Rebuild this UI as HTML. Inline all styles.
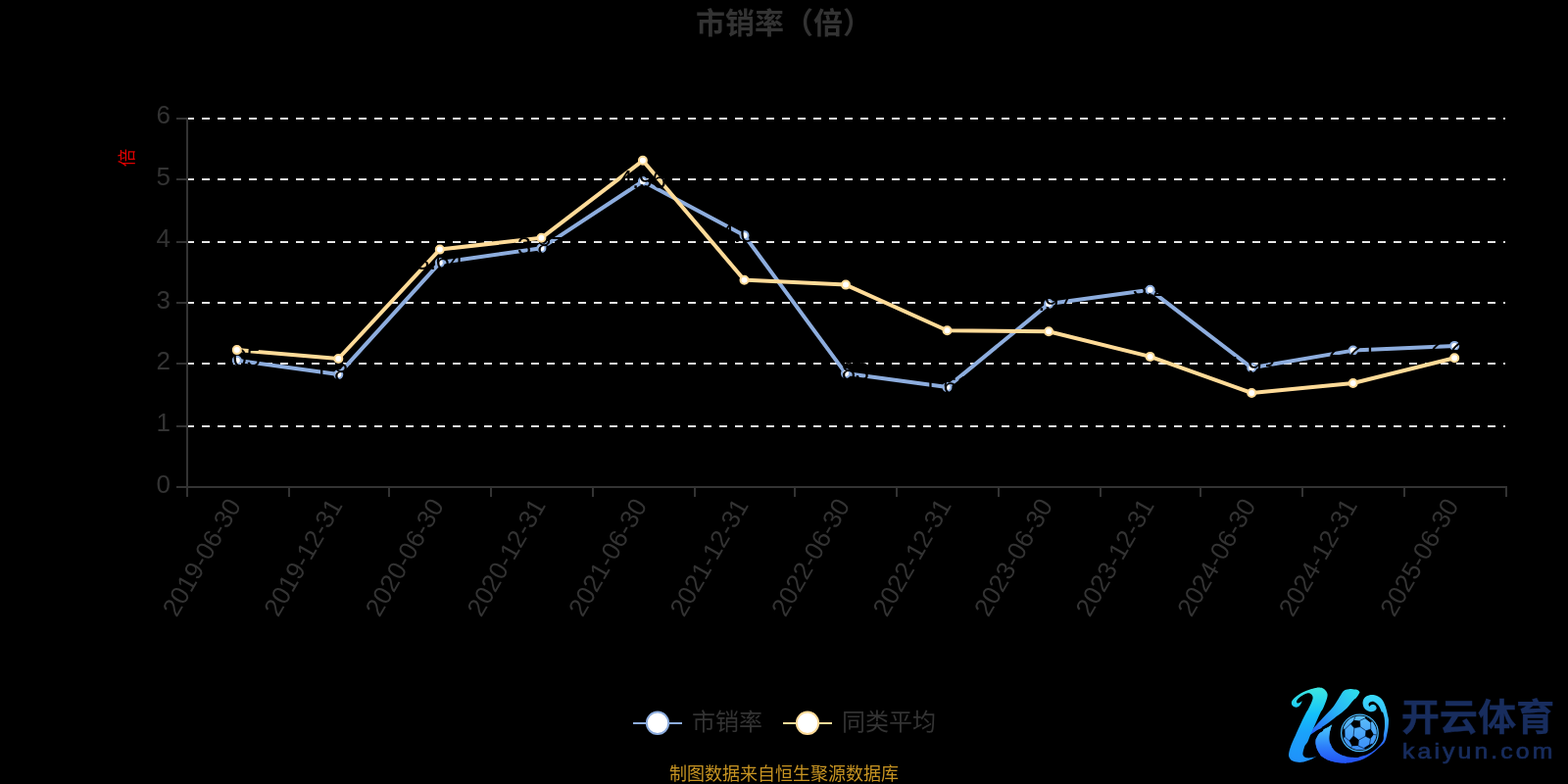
<!DOCTYPE html>
<html lang="zh-CN">
<head>
<meta charset="utf-8">
<title>市销率（倍）</title>
<style>
html,body{margin:0;padding:0;background:#000;}
body{width:1600px;height:800px;overflow:hidden;position:relative;font-family:"Liberation Sans", "Noto Sans CJK SC", sans-serif;}
svg{position:absolute;left:0;top:0;display:block;}
text{font-family:"Liberation Sans", "Noto Sans CJK SC", sans-serif;}
</style>
</head>
<body>
<svg width="1600" height="800" viewBox="0 0 1600 800">
<rect x="0" y="0" width="1600" height="800" fill="#000000"/>
<text x="800" y="34" text-anchor="middle" font-size="30" font-weight="bold" fill="#333333">市销率（倍）</text>
<text x="129" y="161" text-anchor="middle" font-size="18.5" fill="#e00000" transform="rotate(-90 129 161)" dy="6.5">倍</text>
<g stroke="#e6e6e6" stroke-width="2" stroke-dasharray="8 8" fill="none">
<path d="M190 121 H1536"/>
<path d="M190 183 H1536"/>
<path d="M190 247 H1536"/>
<path d="M190 309 H1536"/>
<path d="M190 371 H1536"/>
<path d="M190 435 H1536"/>
</g>
<polyline points="241.8,367.8 345.3,382.1 448.8,268.1 552.4,253.2 655.9,185.0 759.5,240.2 863.0,381.1 966.5,395.1 1070.1,310.1 1173.6,295.8 1277.2,375.3 1380.7,357.6 1484.2,352.9" fill="none" stroke="#8dadde" stroke-width="4" stroke-linejoin="round" stroke-linecap="round"/>
<g fill="#ffffff" stroke="#8dadde" stroke-width="2">
<circle cx="241.8" cy="367.8" r="4"/>
<circle cx="345.3" cy="382.1" r="4"/>
<circle cx="448.8" cy="268.1" r="4"/>
<circle cx="552.4" cy="253.2" r="4"/>
<circle cx="655.9" cy="185.0" r="4"/>
<circle cx="759.5" cy="240.2" r="4"/>
<circle cx="863.0" cy="381.1" r="4"/>
<circle cx="966.5" cy="395.1" r="4"/>
<circle cx="1070.1" cy="310.1" r="4"/>
<circle cx="1173.6" cy="295.8" r="4"/>
<circle cx="1277.2" cy="375.3" r="4"/>
<circle cx="1380.7" cy="357.6" r="4"/>
<circle cx="1484.2" cy="352.9" r="4"/>
</g>
<polyline points="241.8,357.1 345.3,366.0 448.8,254.6 552.4,242.8 655.9,163.8 759.5,285.7 863.0,290.6 966.5,337.2 1070.1,338.2 1173.6,363.9 1277.2,401.0 1380.7,391.0 1484.2,365.3" fill="none" stroke="#ffdb98" stroke-width="4" stroke-linejoin="round" stroke-linecap="round"/>
<g font-size="26" fill="#000000" text-anchor="middle" style="letter-spacing:-0.6px">
<text x="241.2" y="374.2">2.05</text>
<text x="344.7" y="388.6">1.82</text>
<text x="448.2" y="274.6">3.64</text>
<text x="551.8" y="259.8">3.87</text>
<text x="655.3" y="191.5">4.96</text>
<text x="758.9" y="246.7">4.08</text>
<text x="862.4" y="387.6">1.83</text>
<text x="965.9" y="401.6">1.61</text>
<text x="1069.5" y="316.6">2.97</text>
<text x="1173.0" y="302.3">3.2</text>
<text x="1276.6" y="381.8">1.93</text>
<text x="1380.1" y="364.1">2.21</text>
<text x="1483.6" y="359.4">2.28</text>
</g>
<g fill="#ffffff" stroke="#ffdb98" stroke-width="2">
<circle cx="241.8" cy="357.1" r="4"/>
<circle cx="345.3" cy="366.0" r="4"/>
<circle cx="448.8" cy="254.6" r="4"/>
<circle cx="552.4" cy="242.8" r="4"/>
<circle cx="655.9" cy="163.8" r="4"/>
<circle cx="759.5" cy="285.7" r="4"/>
<circle cx="863.0" cy="290.6" r="4"/>
<circle cx="966.5" cy="337.2" r="4"/>
<circle cx="1070.1" cy="338.2" r="4"/>
<circle cx="1173.6" cy="363.9" r="4"/>
<circle cx="1277.2" cy="401.0" r="4"/>
<circle cx="1380.7" cy="391.0" r="4"/>
<circle cx="1484.2" cy="365.3" r="4"/>
</g>
<g stroke="#333333" stroke-width="2" fill="none">
<path d="M191 120 V497"/>
<path d="M190 497 H1538"/>
<path d="M180 121 H190"/>
<path d="M180 183 H190"/>
<path d="M180 247 H190"/>
<path d="M180 309 H190"/>
<path d="M180 371 H190"/>
<path d="M180 435 H190"/>
<path d="M180 497 H190"/>
<path d="M191 497 V507"/>
<path d="M295 497 V507"/>
<path d="M397 497 V507"/>
<path d="M501 497 V507"/>
<path d="M605 497 V507"/>
<path d="M709 497 V507"/>
<path d="M811 497 V507"/>
<path d="M915 497 V507"/>
<path d="M1019 497 V507"/>
<path d="M1123 497 V507"/>
<path d="M1225 497 V507"/>
<path d="M1329 497 V507"/>
<path d="M1433 497 V507"/>
<path d="M1537 497 V507"/>
</g>
<g font-size="26" fill="#333333" text-anchor="end">
<text x="174" y="502.9">0</text>
<text x="174" y="440.0">1</text>
<text x="174" y="377.1">2</text>
<text x="174" y="315.2">3</text>
<text x="174" y="251.8">4</text>
<text x="174" y="189.1">5</text>
<text x="174" y="126.3">6</text>
</g>
<g font-size="26" fill="#333333" text-anchor="end">
<text x="246.8" y="515.5" transform="rotate(-60 246.8 515.5)">2019-06-30</text>
<text x="350.3" y="515.5" transform="rotate(-60 350.3 515.5)">2019-12-31</text>
<text x="453.8" y="515.5" transform="rotate(-60 453.8 515.5)">2020-06-30</text>
<text x="557.4" y="515.5" transform="rotate(-60 557.4 515.5)">2020-12-31</text>
<text x="660.9" y="515.5" transform="rotate(-60 660.9 515.5)">2021-06-30</text>
<text x="764.5" y="515.5" transform="rotate(-60 764.5 515.5)">2021-12-31</text>
<text x="868.0" y="515.5" transform="rotate(-60 868.0 515.5)">2022-06-30</text>
<text x="971.5" y="515.5" transform="rotate(-60 971.5 515.5)">2022-12-31</text>
<text x="1075.1" y="515.5" transform="rotate(-60 1075.1 515.5)">2023-06-30</text>
<text x="1178.6" y="515.5" transform="rotate(-60 1178.6 515.5)">2023-12-31</text>
<text x="1282.2" y="515.5" transform="rotate(-60 1282.2 515.5)">2024-06-30</text>
<text x="1385.7" y="515.5" transform="rotate(-60 1385.7 515.5)">2024-12-31</text>
<text x="1489.2" y="515.5" transform="rotate(-60 1489.2 515.5)">2025-06-30</text>
</g>
<g>
<path d="M646 738 H696" stroke="#8dadde" stroke-width="2" fill="none"/>
<circle cx="671" cy="737.8" r="11.2" fill="#ffffff" stroke="#8dadde" stroke-width="2"/>
<text x="706" y="745" font-size="24" fill="#333333">市销率</text>
<path d="M799 738 H849" stroke="#ffdb98" stroke-width="2" fill="none"/>
<circle cx="824" cy="737.8" r="11.2" fill="#ffffff" stroke="#ffdb98" stroke-width="2"/>
<text x="859" y="745" font-size="24" fill="#333333">同类平均</text>
</g>
<text x="800" y="796.1" text-anchor="middle" font-size="18" fill="#c79422">制图数据来自恒生聚源数据库</text>
<g id="logo">
<defs>
<linearGradient id="g1" gradientUnits="userSpaceOnUse" x1="0" y1="701" x2="0" y2="779">
<stop offset="0" stop-color="#3fe8e0"/><stop offset="0.2" stop-color="#26d4ee"/><stop offset="0.36" stop-color="#14c0fa"/><stop offset="0.6" stop-color="#1aa2fa"/><stop offset="1" stop-color="#2090fa"/>
</linearGradient>
<linearGradient id="g2" gradientUnits="userSpaceOnUse" x1="1385" y1="703" x2="1338" y2="748">
<stop offset="0" stop-color="#2fe0ea"/><stop offset="0.5" stop-color="#28b0f6"/><stop offset="1" stop-color="#2862fa"/>
</linearGradient>
<linearGradient id="g3" gradientUnits="userSpaceOnUse" x1="0" y1="708" x2="0" y2="779">
<stop offset="0" stop-color="#3adcfa"/><stop offset="0.3" stop-color="#38c0fa"/><stop offset="0.5" stop-color="#32a0fa"/><stop offset="0.7" stop-color="#2a6cfa"/><stop offset="1" stop-color="#2352f4"/>
</linearGradient>
<linearGradient id="g4" gradientUnits="userSpaceOnUse" x1="0" y1="730" x2="0" y2="766">
<stop offset="0" stop-color="#5cc0fa"/><stop offset="1" stop-color="#3a8cf8"/>
</linearGradient>
<linearGradient id="g5" gradientUnits="userSpaceOnUse" x1="0" y1="739" x2="0" y2="779">
<stop offset="0" stop-color="#50ccfb"/><stop offset="0.3" stop-color="#3aa6fa"/><stop offset="0.6" stop-color="#2c7cfa"/><stop offset="1" stop-color="#2352f4"/>
</linearGradient>
<clipPath id="lc"><rect x="1330" y="730" width="44" height="60"/></clipPath>
<clipPath id="bc"><circle cx="1387.4" cy="747.9" r="17.4"/></clipPath>
</defs>
<path fill="url(#g3)" d="M1359.25 739.37C1358.65 739.82 1357.69 740.75 1356.25 741.62C1354.81 742.50 1351.66 743.87 1350.62 744.62C1349.59 745.37 1350.78 745.44 1350.01 746.12C1349.24 746.81 1347.11 747.56 1346.00 748.75C1344.89 749.94 1343.94 752.21 1343.37 753.25C1342.81 754.29 1342.75 753.96 1342.62 755.00C1342.50 756.04 1342.37 757.87 1342.62 759.50C1342.87 761.12 1343.44 763.12 1344.12 764.75C1344.81 766.37 1345.98 768.06 1346.75 769.25C1347.52 770.44 1347.48 770.87 1348.75 771.87C1350.02 772.87 1352.19 774.31 1354.37 775.25C1356.56 776.19 1359.06 776.94 1361.87 777.50C1364.69 778.06 1368.44 778.50 1371.25 778.62C1374.06 778.75 1377.29 778.37 1378.75 778.25C1380.21 778.12 1378.54 778.25 1380.00 777.87C1381.46 777.50 1385.00 776.87 1387.50 776.00C1390.00 775.12 1392.50 774.06 1395.00 772.62C1397.50 771.19 1400.31 769.12 1402.50 767.37C1404.69 765.62 1406.37 763.85 1408.12 762.12C1409.87 760.40 1411.81 759.10 1413.00 757.00C1414.19 754.90 1414.66 752.00 1415.25 749.50C1415.84 747.00 1416.28 744.50 1416.56 742.00C1416.84 739.50 1417.03 736.50 1416.94 734.50C1416.84 732.50 1416.34 731.62 1416.00 730.00C1415.66 728.37 1415.37 726.56 1414.87 724.75C1414.37 722.94 1413.69 720.81 1413.00 719.12C1412.31 717.44 1411.62 715.87 1410.75 714.62C1409.87 713.37 1408.81 712.44 1407.75 711.62C1406.69 710.81 1405.50 710.19 1404.37 709.75C1403.25 709.31 1402.12 709.09 1401.00 709.00C1399.87 708.91 1398.69 708.97 1397.62 709.19C1396.56 709.41 1395.56 709.75 1394.62 710.31C1393.69 710.87 1392.66 711.66 1392.00 712.56C1391.34 713.47 1390.91 714.72 1390.69 715.75C1390.47 716.78 1390.53 717.75 1390.69 718.75C1390.84 719.75 1391.22 720.91 1391.62 721.75C1392.03 722.59 1392.50 723.22 1393.12 723.81C1393.75 724.41 1394.56 724.92 1395.37 725.31C1396.19 725.71 1397.12 726.05 1398.00 726.17C1398.87 726.30 1399.81 726.22 1400.62 726.06C1401.44 725.90 1402.26 725.57 1402.87 725.20C1403.49 724.82 1404.01 724.29 1404.30 723.81C1404.59 723.33 1404.64 722.83 1404.60 722.31C1404.56 721.79 1404.35 721.16 1404.07 720.70C1403.80 720.24 1403.37 719.86 1402.95 719.57C1402.53 719.29 1402.04 719.08 1401.56 718.97C1401.08 718.87 1400.53 718.85 1400.06 718.94C1399.59 719.02 1399.12 719.25 1398.75 719.50C1398.37 719.75 1398.05 720.17 1397.81 720.44C1397.57 720.70 1397.42 720.95 1397.32 721.07C1397.16 720.65 1396.54 719.56 1396.50 718.94C1396.46 718.31 1396.74 717.78 1397.06 717.32C1397.39 716.87 1397.91 716.46 1398.45 716.20C1398.99 715.94 1399.68 715.75 1400.32 715.75C1400.97 715.75 1401.65 715.92 1402.31 716.20C1402.97 716.48 1403.59 716.82 1404.30 717.44C1405.01 718.05 1405.86 718.94 1406.55 719.87C1407.24 720.81 1407.88 721.97 1408.42 723.06C1408.97 724.16 1409.36 725.78 1409.81 726.44C1410.26 727.09 1410.66 725.97 1411.12 727.00C1411.59 728.03 1412.31 730.75 1412.62 732.62C1412.94 734.50 1412.97 736.37 1413.00 738.25C1413.03 740.12 1413.00 742.00 1412.81 743.87C1412.62 745.75 1412.09 747.65 1411.87 749.50C1411.66 751.35 1412.19 753.15 1411.50 755.00C1410.81 756.85 1409.25 758.87 1407.75 760.62C1406.25 762.37 1404.62 763.94 1402.50 765.50C1400.37 767.06 1397.50 768.87 1395.00 770.00C1392.50 771.12 1389.16 771.75 1387.50 772.25C1385.84 772.75 1386.78 772.94 1385.01 773.00C1383.24 773.06 1379.48 773.00 1376.87 772.62C1374.27 772.25 1371.56 771.56 1369.37 770.75C1367.19 769.94 1365.31 768.87 1363.75 767.75C1362.19 766.62 1361.00 765.37 1360.00 764.00C1359.00 762.62 1358.31 760.67 1357.75 759.50C1357.19 758.33 1356.87 758.04 1356.62 757.00C1356.37 755.96 1356.25 754.62 1356.25 753.25C1356.25 751.87 1356.37 750.31 1356.62 748.75C1356.87 747.19 1357.31 745.44 1357.75 743.87C1358.19 742.31 1358.95 740.27 1359.25 739.37Z"/>
<path fill="url(#g5)" clip-path="url(#lc)" d="M1359.25 739.37C1358.65 739.82 1357.69 740.75 1356.25 741.62C1354.81 742.50 1351.66 743.87 1350.62 744.62C1349.59 745.37 1350.78 745.44 1350.01 746.12C1349.24 746.81 1347.11 747.56 1346.00 748.75C1344.89 749.94 1343.94 752.21 1343.37 753.25C1342.81 754.29 1342.75 753.96 1342.62 755.00C1342.50 756.04 1342.37 757.87 1342.62 759.50C1342.87 761.12 1343.44 763.12 1344.12 764.75C1344.81 766.37 1345.98 768.06 1346.75 769.25C1347.52 770.44 1347.48 770.87 1348.75 771.87C1350.02 772.87 1352.19 774.31 1354.37 775.25C1356.56 776.19 1359.06 776.94 1361.87 777.50C1364.69 778.06 1368.44 778.50 1371.25 778.62C1374.06 778.75 1377.29 778.37 1378.75 778.25C1380.21 778.12 1378.54 778.25 1380.00 777.87C1381.46 777.50 1385.00 776.87 1387.50 776.00C1390.00 775.12 1392.50 774.06 1395.00 772.62C1397.50 771.19 1400.31 769.12 1402.50 767.37C1404.69 765.62 1406.37 763.85 1408.12 762.12C1409.87 760.40 1411.81 759.10 1413.00 757.00C1414.19 754.90 1414.66 752.00 1415.25 749.50C1415.84 747.00 1416.28 744.50 1416.56 742.00C1416.84 739.50 1417.03 736.50 1416.94 734.50C1416.84 732.50 1416.34 731.62 1416.00 730.00C1415.66 728.37 1415.37 726.56 1414.87 724.75C1414.37 722.94 1413.69 720.81 1413.00 719.12C1412.31 717.44 1411.62 715.87 1410.75 714.62C1409.87 713.37 1408.81 712.44 1407.75 711.62C1406.69 710.81 1405.50 710.19 1404.37 709.75C1403.25 709.31 1402.12 709.09 1401.00 709.00C1399.87 708.91 1398.69 708.97 1397.62 709.19C1396.56 709.41 1395.56 709.75 1394.62 710.31C1393.69 710.87 1392.66 711.66 1392.00 712.56C1391.34 713.47 1390.91 714.72 1390.69 715.75C1390.47 716.78 1390.53 717.75 1390.69 718.75C1390.84 719.75 1391.22 720.91 1391.62 721.75C1392.03 722.59 1392.50 723.22 1393.12 723.81C1393.75 724.41 1394.56 724.92 1395.37 725.31C1396.19 725.71 1397.12 726.05 1398.00 726.17C1398.87 726.30 1399.81 726.22 1400.62 726.06C1401.44 725.90 1402.26 725.57 1402.87 725.20C1403.49 724.82 1404.01 724.29 1404.30 723.81C1404.59 723.33 1404.64 722.83 1404.60 722.31C1404.56 721.79 1404.35 721.16 1404.07 720.70C1403.80 720.24 1403.37 719.86 1402.95 719.57C1402.53 719.29 1402.04 719.08 1401.56 718.97C1401.08 718.87 1400.53 718.85 1400.06 718.94C1399.59 719.02 1399.12 719.25 1398.75 719.50C1398.37 719.75 1398.05 720.17 1397.81 720.44C1397.57 720.70 1397.42 720.95 1397.32 721.07C1397.16 720.65 1396.54 719.56 1396.50 718.94C1396.46 718.31 1396.74 717.78 1397.06 717.32C1397.39 716.87 1397.91 716.46 1398.45 716.20C1398.99 715.94 1399.68 715.75 1400.32 715.75C1400.97 715.75 1401.65 715.92 1402.31 716.20C1402.97 716.48 1403.59 716.82 1404.30 717.44C1405.01 718.05 1405.86 718.94 1406.55 719.87C1407.24 720.81 1407.88 721.97 1408.42 723.06C1408.97 724.16 1409.36 725.78 1409.81 726.44C1410.26 727.09 1410.66 725.97 1411.12 727.00C1411.59 728.03 1412.31 730.75 1412.62 732.62C1412.94 734.50 1412.97 736.37 1413.00 738.25C1413.03 740.12 1413.00 742.00 1412.81 743.87C1412.62 745.75 1412.09 747.65 1411.87 749.50C1411.66 751.35 1412.19 753.15 1411.50 755.00C1410.81 756.85 1409.25 758.87 1407.75 760.62C1406.25 762.37 1404.62 763.94 1402.50 765.50C1400.37 767.06 1397.50 768.87 1395.00 770.00C1392.50 771.12 1389.16 771.75 1387.50 772.25C1385.84 772.75 1386.78 772.94 1385.01 773.00C1383.24 773.06 1379.48 773.00 1376.87 772.62C1374.27 772.25 1371.56 771.56 1369.37 770.75C1367.19 769.94 1365.31 768.87 1363.75 767.75C1362.19 766.62 1361.00 765.37 1360.00 764.00C1359.00 762.62 1358.31 760.67 1357.75 759.50C1357.19 758.33 1356.87 758.04 1356.62 757.00C1356.37 755.96 1356.25 754.62 1356.25 753.25C1356.25 751.87 1356.37 750.31 1356.62 748.75C1356.87 747.19 1357.31 745.44 1357.75 743.87C1358.19 742.31 1358.95 740.27 1359.25 739.37Z"/>
<path fill="url(#g2)" d="M1337.00 747.50C1337.50 746.44 1338.67 745.10 1340.00 743.50C1341.33 741.90 1343.35 739.69 1345.00 737.87C1346.65 736.06 1348.19 734.44 1349.87 732.62C1351.56 730.81 1353.44 728.81 1355.12 727.00C1356.81 725.19 1358.44 723.75 1360.00 721.75C1361.56 719.75 1363.12 717.12 1364.50 715.00C1365.87 712.87 1367.25 710.56 1368.25 709.00C1369.25 707.44 1369.62 706.50 1370.50 705.62C1371.37 704.75 1372.12 704.19 1373.50 703.75C1374.87 703.31 1377.67 703.09 1378.75 703.00C1379.83 702.91 1379.17 703.09 1380.00 703.19C1380.83 703.28 1382.69 703.31 1383.75 703.56C1384.81 703.81 1385.75 704.22 1386.37 704.69C1387.00 705.16 1387.27 706.04 1387.50 706.37C1387.27 706.82 1387.00 707.62 1386.37 708.62C1385.75 709.62 1384.52 711.50 1383.75 712.37C1382.98 713.25 1382.71 712.87 1381.75 713.87C1380.79 714.87 1379.25 716.87 1378.00 718.37C1376.75 719.87 1375.69 721.44 1374.25 722.87C1372.81 724.31 1371.12 725.62 1369.37 727.00C1367.62 728.38 1365.94 729.44 1363.75 731.12C1361.56 732.81 1358.75 735.25 1356.25 737.12C1353.75 739.00 1349.79 741.56 1348.75 742.37C1347.71 743.19 1350.85 741.50 1350.01 742.00C1349.18 742.50 1345.92 744.06 1343.75 745.37C1341.58 746.69 1338.12 749.52 1337.00 749.87C1335.87 750.23 1336.50 748.56 1337.00 747.50Z"/>
<path fill="url(#g1)" d="M1347.50 701.72C1346.67 701.69 1345.31 701.47 1343.75 701.69C1342.19 701.90 1340.00 702.44 1338.12 703.00C1336.25 703.56 1334.37 704.25 1332.50 705.06C1330.62 705.87 1328.62 706.84 1326.87 707.87C1325.12 708.91 1323.31 710.19 1322.00 711.25C1320.69 712.31 1319.69 713.31 1319.00 714.25C1318.31 715.19 1317.97 716.00 1317.87 716.87C1317.78 717.75 1318.00 718.75 1318.44 719.50C1318.87 720.25 1319.72 721.00 1320.50 721.37C1321.28 721.75 1322.25 721.91 1323.12 721.75C1324.00 721.59 1325.00 721.06 1325.75 720.44C1326.50 719.81 1327.12 718.84 1327.62 718.00C1328.12 717.16 1328.52 715.90 1328.75 715.37C1328.30 715.67 1327.19 716.50 1326.50 716.87C1325.81 717.25 1325.16 717.59 1324.62 717.62C1324.09 717.66 1323.56 717.44 1323.31 717.06C1323.06 716.69 1322.91 716.03 1323.12 715.37C1323.34 714.72 1323.87 713.94 1324.62 713.12C1325.37 712.31 1326.56 711.28 1327.62 710.50C1328.69 709.72 1329.87 708.97 1331.00 708.44C1332.12 707.91 1333.37 707.44 1334.37 707.31C1335.37 707.19 1336.25 707.34 1337.00 707.69C1337.75 708.03 1338.44 708.66 1338.87 709.37C1339.31 710.09 1339.62 711.06 1339.62 712.00C1339.62 712.94 1339.31 713.75 1338.87 715.00C1338.44 716.25 1337.69 718.00 1337.00 719.50C1336.31 721.00 1335.44 722.75 1334.75 724.00C1334.06 725.25 1333.87 725.12 1332.87 727.00C1331.87 728.88 1330.19 732.25 1328.75 735.25C1327.31 738.25 1325.50 742.25 1324.25 745.00C1323.00 747.75 1322.00 750.08 1321.25 751.75C1320.50 753.42 1320.50 753.21 1319.75 755.00C1319.00 756.79 1317.53 760.12 1316.75 762.50C1315.97 764.87 1315.25 767.50 1315.06 769.25C1314.87 771.00 1315.03 771.81 1315.62 773.00C1316.22 774.19 1317.19 775.56 1318.62 776.37C1320.06 777.19 1322.31 777.69 1324.25 777.87C1326.19 778.06 1328.25 777.87 1330.25 777.50C1332.25 777.12 1334.50 776.31 1336.25 775.62C1338.00 774.94 1339.50 774.06 1340.75 773.37C1342.00 772.69 1343.15 771.87 1343.75 771.50C1343.37 771.65 1342.75 772.00 1341.87 772.25C1341.00 772.50 1339.75 772.81 1338.50 773.00C1337.25 773.19 1335.62 773.50 1334.37 773.37C1333.12 773.25 1331.81 772.81 1331.00 772.25C1330.19 771.69 1329.69 771.00 1329.50 770.00C1329.31 769.00 1329.50 767.81 1329.87 766.25C1330.25 764.69 1331.00 762.17 1331.75 760.62C1332.50 759.08 1333.50 758.73 1334.37 757.00C1335.25 755.27 1336.06 752.50 1337.00 750.25C1337.94 748.00 1338.87 746.00 1340.00 743.50C1341.12 741.00 1342.50 738.00 1343.75 735.25C1345.00 732.50 1346.54 728.88 1347.50 727.00C1348.46 725.12 1348.73 725.50 1349.50 724.00C1350.27 722.50 1351.37 719.87 1352.12 718.00C1352.87 716.12 1353.59 714.37 1354.00 712.75C1354.41 711.12 1354.81 709.62 1354.56 708.25C1354.31 706.87 1353.47 705.56 1352.50 704.50C1351.53 703.44 1349.58 702.34 1348.75 701.87C1347.92 701.41 1348.33 701.76 1347.50 701.72Z"/>
<circle cx="1387.4" cy="747.9" r="18.8" fill="#000000" stroke="#48b6fa" stroke-width="1.3"/>
<circle cx="1387.4" cy="747.9" r="17.4" fill="url(#g4)"/>
<g clip-path="url(#bc)">
<g fill="none" stroke="#0a2a55" stroke-width="0.8">
<polygon points="1381.9,742.8 1388.0,741.6 1393.9,745.8 1393.3,751.3 1386.4,755.1 1381.1,751.0"/>
<path d="M1388 741.6 L1387.5 735.4 M1393.9 745.8 L1398.8 743.9 M1393.3 751.3 L1398.5 753.8 M1386.4 755.1 L1385.8 761 M1381.1 751 L1376.8 756 M1381.9 742.8 L1378.2 738.5"/>
<path d="M1387.5 735.4 L1393 732.8 L1398.6 737.2 L1398.8 743.9 M1398.5 753.8 L1397.4 760 L1391.6 763.6 L1385.8 761 M1376.8 756 L1372.2 752 L1372 744.5 L1378.2 738.5 M1381.5 734.8 L1383 731 M1401.8 749.5 L1405 750 M1379.6 761.2 L1377.5 764.5"/>
</g>
<g fill="#000000">
<polygon points="1378.2,738.5 1381.5,734.8 1387.5,735.4 1388.0,741.6 1381.9,742.8"/>
<polygon points="1393.9,745.8 1398.8,743.9 1401.8,749.5 1398.5,753.8 1393.3,751.3"/>
<polygon points="1381.1,751.0 1386.4,755.1 1385.8,761.0 1379.6,761.2 1376.8,756.0"/>
<polygon points="1393.0,730.0 1397.0,732.0 1401.0,735.6 1398.6,737.2 1393.0,732.8"/>
<polygon points="1370.0,742.0 1372.0,744.5 1372.2,752.0 1370.2,753.5 1369.0,748.0"/>
<polygon points="1397.4,760.0 1400.5,758.5 1399.5,762.0 1396.0,764.5 1391.6,763.6"/>
</g>
</g>
<text transform="translate(1429.8 744.9) scale(1 0.96)" x="0" y="0" font-size="39.2" font-weight="700" fill="#182d5e" stroke="#182d5e" stroke-width="0.3" textLength="156.4" lengthAdjust="spacing">开云体育</text>
<text transform="translate(1431.0 774.2) scale(1.1 1)" x="0" y="0" font-size="22.5" fill="#182d5e" stroke="#182d5e" stroke-width="0.7" style="letter-spacing:2.85px">kaiyun.com</text>
</g>
</svg>
</body>
</html>
